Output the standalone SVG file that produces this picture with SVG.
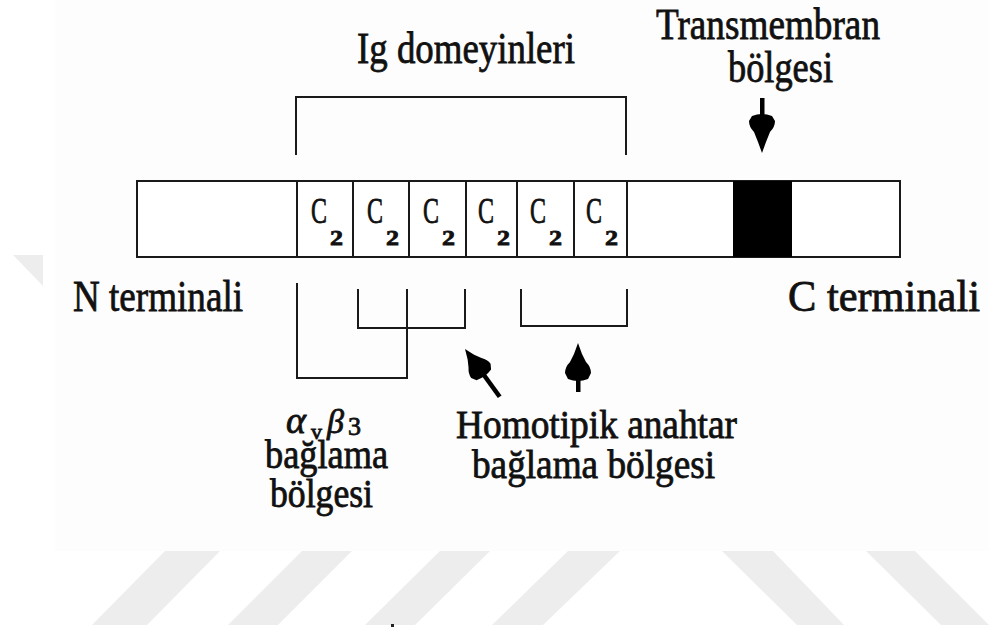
<svg xmlns="http://www.w3.org/2000/svg" width="989" height="630" viewBox="0 0 989 630">
<style>
.t{font-family:"Liberation Serif","Times New Roman",serif;fill:#111;stroke:#111;stroke-width:0.8;}
.ln{fill:none;stroke:#1a1a1a;stroke-width:2;}
.cell{fill:#fff;stroke:#1a1a1a;stroke-width:2;}
.wm{fill:#ededed;}
.ar{fill:#000;}
</style>
<rect x="0" y="0" width="989" height="630" fill="#fff"/>
<rect x="55" y="0" width="934" height="551" fill="#fdfdfd"/>
<g id="watermark">
<polygon class="wm" points="13,255 43,255 43,286"/>
<polygon class="wm" points="165,551 220,551 147,625 92,625"/>
<polygon class="wm" points="302,551 352,551 278,625 228,625"/>
<polygon class="wm" points="440,551 490,551 415,625 365,625"/>
<polygon class="wm" points="568,551 620,551 543,625 492,625"/>
<polygon class="wm" points="722,551 773,551 844,625 797,625"/>
<polygon class="wm" points="866,551 915,551 989,625 941,625"/>
<rect x="391" y="624" width="3" height="3" fill="#222"/>
</g>
<g id="bar">
<rect class="cell" x="137" y="181" width="763" height="76"/>
<rect x="733" y="181" width="59" height="76" fill="#000"/>
</g>
<g id="cells" class="ln">
<line x1="297" y1="181" x2="297" y2="257"/>
<line x1="353" y1="181" x2="353" y2="257"/>
<line x1="409" y1="181" x2="409" y2="257"/>
<line x1="466" y1="181" x2="466" y2="257"/>
<line x1="517" y1="181" x2="517" y2="257"/>
<line x1="574" y1="181" x2="574" y2="257"/>
<line x1="627" y1="181" x2="627" y2="257"/>
</g>
<g id="c2-labels">
<g id="c2-1"><text class="t" x="311" y="223" font-size="36" textLength="16" lengthAdjust="spacingAndGlyphs">C</text><text class="t" x="330" y="245" font-size="22" font-weight="bold" textLength="13" lengthAdjust="spacingAndGlyphs">2</text></g>
<g id="c2-2"><text class="t" x="367" y="223" font-size="36" textLength="16" lengthAdjust="spacingAndGlyphs">C</text><text class="t" x="386" y="245" font-size="22" font-weight="bold" textLength="13" lengthAdjust="spacingAndGlyphs">2</text></g>
<g id="c2-3"><text class="t" x="423" y="223" font-size="36" textLength="16" lengthAdjust="spacingAndGlyphs">C</text><text class="t" x="442" y="245" font-size="22" font-weight="bold" textLength="13" lengthAdjust="spacingAndGlyphs">2</text></g>
<g id="c2-4"><text class="t" x="478" y="223" font-size="36" textLength="16" lengthAdjust="spacingAndGlyphs">C</text><text class="t" x="497" y="245" font-size="22" font-weight="bold" textLength="13" lengthAdjust="spacingAndGlyphs">2</text></g>
<g id="c2-5"><text class="t" x="530" y="223" font-size="36" textLength="16" lengthAdjust="spacingAndGlyphs">C</text><text class="t" x="549" y="245" font-size="22" font-weight="bold" textLength="13" lengthAdjust="spacingAndGlyphs">2</text></g>
<g id="c2-6"><text class="t" x="586" y="223" font-size="36" textLength="16" lengthAdjust="spacingAndGlyphs">C</text><text class="t" x="605" y="245" font-size="22" font-weight="bold" textLength="13" lengthAdjust="spacingAndGlyphs">2</text></g>
</g>
<g id="label-ig"><text class="t" x="357" y="63" font-size="45" textLength="218" lengthAdjust="spacingAndGlyphs">Ig domeyinleri</text></g>
<g id="label-tm">
<text class="t" x="656" y="39" font-size="44" textLength="224" lengthAdjust="spacingAndGlyphs">Transmembran</text>
<text class="t" x="728" y="82" font-size="44" textLength="105" lengthAdjust="spacingAndGlyphs">bölgesi</text>
</g>
<g id="label-n"><text class="t" x="73" y="311" font-size="45" textLength="170" lengthAdjust="spacingAndGlyphs">N terminali</text></g>
<g id="label-c"><text class="t" x="788" y="311" font-size="44" textLength="192" lengthAdjust="spacingAndGlyphs">C terminali</text></g>
<g id="label-avb3">
<text class="t" y="433" font-size="38"><tspan x="286" font-style="italic">α</tspan><tspan x="311" y="439" font-size="22">v</tspan><tspan x="327" y="433" font-style="italic" font-size="34">β</tspan><tspan x="348" y="435" font-size="26">3</tspan></text>
<text class="t" x="265" y="468" font-size="39" textLength="123" lengthAdjust="spacingAndGlyphs">bağlama</text>
<text class="t" x="270" y="507" font-size="39" textLength="103" lengthAdjust="spacingAndGlyphs">bölgesi</text>
</g>
<g id="label-homo">
<text class="t" x="456" y="438" font-size="40" textLength="281" lengthAdjust="spacingAndGlyphs">Homotipik anahtar</text>
<text class="t" x="472" y="478" font-size="40" textLength="243" lengthAdjust="spacingAndGlyphs">bağlama bölgesi</text>
</g>
<g id="connectors">
<polyline class="ln" points="296,155 296,97 626,97 626,155"/>
<polyline class="ln" points="297,283 297,378 407,378 407,289"/>
<polyline class="ln" points="358,289 358,328 465,328 465,289"/>
<polyline class="ln" points="521,289 521,326 627,326 627,289"/>
<rect class="ar" x="760" y="98" width="4.5" height="20"/>
<path class="ar" d="M752,116 Q762,112 772,116 L775,121 Q775,127 770,132 L766,142 L762,153 L758,142 L754,132 Q749,127 749,121 Z"/>
<path class="ar" d="M578,343 L582,354 L586,362 Q591,367 591,373 L588,379 Q578,383 568,379 L565,373 Q565,367 570,362 L574,354 Z"/>
<rect class="ar" x="576" y="378" width="4.5" height="14"/>
<g transform="translate(465,349) rotate(-36)">
<path class="ar" d="M0,0 L4,10 L8,17 Q12,22 12,27 L9,32 Q0,35 -9,32 L-12,27 Q-12,22 -8,17 L-4,10 Z"/>
<rect class="ar" x="-2.3" y="30" width="4.6" height="29"/>
</g>
</g>
</svg>
